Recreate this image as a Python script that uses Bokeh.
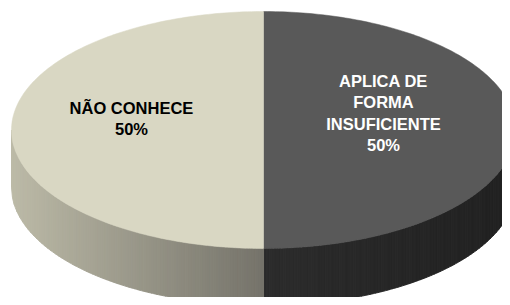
import numpy as np
from bokeh.plotting import figure
from bokeh.models import Range1d
from bokeh.core.properties import value
from bokeh.embed import file_html
from bokeh.resources import INLINE

# ---- data ----
categories = ["APLICA DE\nFORMA\nINSUFICIENTE", "NÃO CONHECE"]
values = [50, 50]
top_colors = ["#595959", "#d9d7c3"]
side_light = ["#2c2c2c", "#bcbaa7"]   # colour at the left end of the visible side
side_dark = ["#212121", "#75736a"]    # colour at the right end of the visible side
label_colors = ["white", "black"]

# ---- layout (screen pixels of the page) ----
W, H = 502, 297
OX, OY = 0, 0              # where the figure sits in the picture
CX, CY = 263.0, 129.5      # centre of the top ellipse (screen coords)
RX, RY = 252.0, 118.5
DEPTH = 57.0
label_offsets = [(-6, -17), (-6, -11.5)]

p = figure(width=W, height=H, x_range=Range1d(OX, OX + W), y_range=Range1d(-(OY + H), -OY),
           output_backend="svg", toolbar_location=None, min_border=0)
p.axis.visible = False
p.grid.visible = False
p.outline_line_color = None
p.background_fill_color = "white"
p.border_fill_color = "white"

cy = -CY  # data coordinate (y up)

def pt(t, drop=0.0):
    return CX + RX * np.cos(t), cy - drop + RY * np.sin(t)

def hex2rgb(h):
    h = h.lstrip("#")
    return np.array([int(h[i:i + 2], 16) for i in (0, 2, 4)], float)

def rgb2hex(c):
    return "#%02x%02x%02x" % tuple(int(round(v)) for v in c)

total = float(sum(values))
start = np.pi / 2
angles = []
a = start
for v in values:
    b = a - 2 * np.pi * v / total
    angles.append((a, b))
    a = b

# ---- sides (front half only), drawn as thin strips to imitate a gradient ----
sx, sy, sc = [], [], []
for i, (a0, a1) in enumerate(angles):
    ts = np.linspace(a1, a0, 2000)
    front = ts[np.sin(ts) < 0]
    if front.size < 2:
        continue
    xs_all = CX + RX * np.cos(front)
    xmin, xmax = xs_all.min(), xs_all.max()
    n = 90
    xe = np.linspace(xmin, xmax, n + 1)
    c0, c1 = hex2rgb(side_light[i]), hex2rgb(side_dark[i])
    for k in range(n):
        xa, xb = xe[k], xe[k + 1]
        xx = np.linspace(xa, xb, 4)
        yt = cy - RY * np.sqrt(np.clip(1 - ((xx - CX) / RX) ** 2, 0, 1))
        yb = yt - DEPTH
        sx.append(list(xx) + list(xx[::-1]))
        sy.append(list(yt) + list(yb[::-1]))
        u = (0.5 * (xa + xb) - xmin) / (xmax - xmin)
        sc.append(rgb2hex(c0 + (c1 - c0) * u))

p.patches(sx, sy, fill_color=sc, line_color=sc, line_width=1)

# ---- tops ----
tx, ty = [], []
for (a0, a1) in angles:
    ts = np.linspace(a0, a1, 200)
    x, y = pt(ts)
    tx.append([CX] + list(x))
    ty.append([cy] + list(y))
p.patches(tx, ty, fill_color=top_colors, line_color=top_colors, line_width=0.5)

# ---- labels ----
lx, ly, lt = [], [], []
for i, (a0, a1) in enumerate(angles):
    mid = 0.5 * (a0 + a1)
    dx, dy = label_offsets[i]
    lx.append(CX + 0.5 * RX * np.cos(mid) + dx)
    ly.append(cy - dy)
    lt.append(f"{categories[i]}\n{round(100 * values[i] / total)}%")

p.text(x=lx, y=ly, text=lt, text_align="center", text_baseline="middle",
       text_font=value("Liberation Sans"), text_font_style="bold",
       text_font_size="16.5px", text_color=label_colors, text_line_height=1.18)

open("out.html", "w").write(file_html(p, INLINE))
